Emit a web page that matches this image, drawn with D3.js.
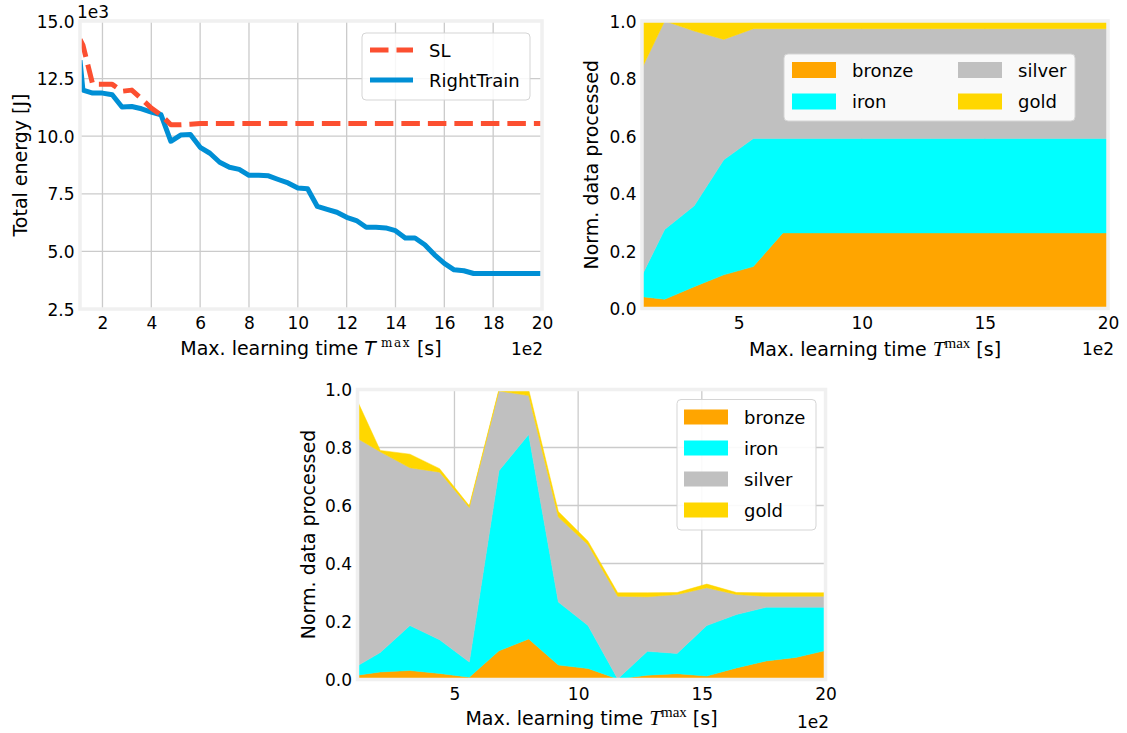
<!DOCTYPE html>
<html><head><meta charset="utf-8">
<script src="https://cdn.jsdelivr.net/npm/d3@7/dist/d3.min.js"></script>
<style>body{margin:0;background:#fff}svg{display:block;font-family:"DejaVu Sans",sans-serif}</style>
</head><body><svg id="c" width="1127" height="733"></svg>
<script>
// ---------- DATA ----------
const energyX = [1.08,1.2,1.6,2.0,2.4,2.8,3.2,3.6,4.0,4.4,4.8,5.2,5.6,6.0,6.4,6.8,7.2,7.6,8.0,8.4,8.8,9.2,9.6,10.0,10.4,10.8,11.2,11.6,12.0,12.4,12.8,13.2,13.6,14.0,14.4,14.8,15.2,15.6,16.0,16.4,16.8,17.2,17.6,18.0,18.4,18.8,19.2,19.6,20.0];
const slEnergy = [14.2,13.95,12.25,12.25,12.25,11.95,12.0,11.62,11.22,10.92,10.5,10.5,10.52,10.55,10.55,10.55,10.55,10.55,10.55,10.55,10.55,10.55,10.55,10.55,10.55,10.55,10.55,10.55,10.55,10.55,10.55,10.55,10.55,10.55,10.55,10.55,10.55,10.55,10.55,10.55,10.55,10.55,10.55,10.55,10.55,10.55,10.55,10.55,10.55];
const rightTrainEnergy = [13.3,12.0,11.87,11.87,11.8,11.27,11.29,11.19,11.05,10.93,9.78,10.05,10.07,9.52,9.26,8.87,8.65,8.56,8.3,8.3,8.28,8.12,7.97,7.75,7.72,6.95,6.82,6.70,6.48,6.34,6.05,6.05,6.02,5.90,5.58,5.58,5.29,4.85,4.48,4.20,4.16,4.04,4.04,4.04,4.04,4.04,4.04,4.04,4.04];
const energyYTicks = [2.5,5.0,7.5,10.0,12.5,15.0];
const energyXTicks = [2,4,6,8,10,12,14,16,18,20];
const lineNames = ["SL","RightTrain"];

const stackX = [1.08,2.0,3.2,4.4,5.6,6.8,8.0,9.2,10.4,11.6,12.8,14.0,15.2,16.4,17.6,18.8,20.0];
const tiers = ["bronze","iron","silver","gold"];
const tierColors = ["#FFA500","#00FFFF","#C0C0C0","#FFD700"];
// top-right panel
const bBronze = [0.041,0.032,0.076,0.117,0.146,0.263,0.263,0.263,0.263,0.263,0.263,0.263,0.263,0.263,0.263,0.263,0.263];
const bIron   = [0.074,0.243,0.281,0.400,0.445,0.328,0.328,0.328,0.328,0.328,0.328,0.328,0.328,0.328,0.328,0.328,0.328];
const bSilver = [0.721,0.725,0.608,0.419,0.382,0.382,0.382,0.382,0.382,0.382,0.382,0.382,0.382,0.382,0.382,0.382,0.382];
const bGold   = [0.164,0.000,0.035,0.064,0.027,0.027,0.027,0.027,0.027,0.027,0.027,0.027,0.027,0.027,0.027,0.027,0.027];
// bottom panel
const cBronze = [0.015,0.026,0.031,0.021,0.008,0.099,0.140,0.050,0.038,0.002,0.015,0.020,0.012,0.040,0.064,0.076,0.100];
const cIron   = [0.032,0.067,0.155,0.116,0.052,0.621,0.705,0.217,0.148,0.000,0.082,0.070,0.174,0.184,0.185,0.173,0.149];
const cSilver = [0.784,0.692,0.544,0.578,0.533,0.275,0.134,0.293,0.279,0.285,0.188,0.203,0.130,0.069,0.038,0.038,0.038];
const cGold   = [0.129,0.005,0.047,0.012,0.006,0.005,0.021,0.019,0.012,0.012,0.014,0.007,0.013,0.007,0.012,0.012,0.012];
const normYTicks = [0.0,0.2,0.4,0.6,0.8,1.0];
const normXTicks = [5,10,15,20];

// ---------- DRAW ----------
const svg = d3.select("#c");
const TICK_FS = 17, LABEL_FS = 19, LEG_FS = 18;
const GRID = "#cbcbcb", FRAME = "#f0f0f0";

function panel(id, box, xDom, yDom, xTicks, yTicks, yFmt) {
  const g = svg.append("g");
  const x = d3.scaleLinear().domain(xDom).range([box.x0, box.x1]);
  const y = d3.scaleLinear().domain(yDom).range([box.y1, box.y0]);
  g.append("clipPath").attr("id", id).append("rect")
    .attr("x", box.x0).attr("y", box.y0).attr("width", box.x1 - box.x0).attr("height", box.y1 - box.y0);
  // grid
  g.append("g").selectAll("line").data(xTicks).join("line")
    .attr("x1", d => x(d)).attr("x2", d => x(d)).attr("y1", box.y0).attr("y2", box.y1)
    .attr("stroke", GRID).attr("stroke-width", 1.3);
  g.append("g").selectAll("line").data(yTicks).join("line")
    .attr("y1", d => y(d)).attr("y2", d => y(d)).attr("x1", box.x0).attr("x2", box.x1)
    .attr("stroke", GRID).attr("stroke-width", 1.3);
  const data = g.append("g").attr("clip-path", `url(#${id})`);
  const over = g.append("g");
  over.append("rect").attr("x", box.x0).attr("y", box.y0).attr("width", box.x1 - box.x0).attr("height", box.y1 - box.y0)
    .attr("fill", "none").attr("stroke", FRAME).attr("stroke-width", 3.5);
  // axes via d3
  const xa = over.append("g").attr("transform", `translate(0,${box.y1})`)
    .call(d3.axisBottom(x).tickValues(xTicks).tickSize(0).tickPadding(0).tickFormat(d3.format("d")));
  xa.select(".domain").remove();
  xa.selectAll("text").attr("font-size", TICK_FS).attr("font-family", "DejaVu Sans").attr("fill", "#000")
    .attr("y", 20).attr("dy", 0);
  const ya = over.append("g").attr("transform", `translate(${box.x0},0)`)
    .call(d3.axisLeft(y).tickValues(yTicks).tickSize(0).tickPadding(5.5).tickFormat(yFmt));
  ya.select(".domain").remove();
  ya.selectAll("text").attr("font-size", TICK_FS).attr("font-family", "DejaVu Sans").attr("fill", "#000")
    .attr("dy", "0.36em");
  return {g, x, y, data, over};
}

function xLabel(p, box, serifT, baseY) {
  const cx = (box.x0 + box.x1) / 2;
  const t = p.over.append("text").attr("x", cx).attr("y", baseY).attr("text-anchor", "middle")
    .attr("font-size", LABEL_FS).attr("fill", "#000");
  t.append("tspan").text("Max. learning time ");
  if (serifT) {
    t.append("tspan").attr("font-family", "Liberation Serif").attr("font-style", "italic").attr("font-size", 21).text("T");
    t.append("tspan").attr("font-family", "Liberation Serif").attr("font-size", 15).attr("dy", -8).text("max");
  } else {
    t.append("tspan").attr("font-style", "italic").text("T");
    t.append("tspan").attr("font-family", "DejaVu Serif").attr("font-size", 12).attr("letter-spacing", 1.5).attr("dy", -8).text(" max");
  }
  t.append("tspan").attr("dy", 8).text(" [s]");
}
function yLabel(p, bx, cy, txt) {
  p.over.append("text").attr("transform", `translate(${bx},${cy}) rotate(-90)`).attr("text-anchor", "middle")
    .attr("font-size", LABEL_FS).attr("fill", "#000").text(txt);
}
function offsetText(p, x, y, anchor, txt) {
  p.over.append("text").attr("x", x).attr("y", y).attr("text-anchor", anchor)
    .attr("font-size", TICK_FS).attr("fill", "#000").text(txt);
}

// ---- Panel A: energy lines ----
const boxA = {x0: 80, x1: 542, y0: 21, y1: 309};
const pA = panel("clipA", boxA, [energyX[0], energyX[energyX.length - 1]], [2.5, 15], energyXTicks, energyYTicks, d3.format(".1f"));
const lineA = d3.line().x((d, i) => pA.x(energyX[i])).y(d => pA.y(d));
pA.data.append("path").datum(rightTrainEnergy).attr("d", lineA).attr("fill", "none")
  .attr("stroke", "#008fd5").attr("stroke-width", 5).attr("stroke-linejoin", "round");
pA.data.append("path").datum(slEnergy).attr("d", lineA).attr("fill", "none")
  .attr("stroke", "#fc4f30").attr("stroke-width", 5).attr("stroke-dasharray", "18.5,8").attr("stroke-linejoin", "round");
pA.over.raise();
xLabel(pA, boxA, false, 355);
yLabel(pA, 27, (boxA.y0 + boxA.y1) / 2, "Total energy [J]");
offsetText(pA, 77, 18, "start", "1e3");
offsetText(pA, 543, 355, "end", "1e2");
// legend A
{
  const lg = pA.over.append("g");
  lg.append("rect").attr("x", 362).attr("y", 33).attr("width", 168).attr("height", 67).attr("rx", 4)
    .attr("fill", "#fff").attr("fill-opacity", 0.85).attr("stroke", "#d5d5d5").attr("stroke-width", 1);
  const cols = ["#fc4f30", "#008fd5"], dash = ["18.5,8", null];
  lineNames.forEach((n, i) => {
    const yy = 50 + i * 30;
    const l = lg.append("line").attr("x1", 370).attr("x2", 413).attr("y1", yy).attr("y2", yy)
      .attr("stroke", cols[i]).attr("stroke-width", 5);
    if (dash[i]) l.attr("stroke-dasharray", dash[i]);
    lg.append("text").attr("x", 429).attr("y", yy + 6.5).attr("font-size", LEG_FS).attr("fill", "#000").text(n);
  });
}

// ---- stacked panels ----
function stackPanel(id, box, vals, legendFn) {
  const p = panel(id, box, [stackX[0], stackX[stackX.length - 1]], [0, 1], normXTicks, normYTicks, d3.format(".1f"));
  const rows = stackX.map((x, i) => {
    const r = {x};
    tiers.forEach((t, k) => r[t] = vals[k][i]);
    return r;
  });
  const series = d3.stack().keys(tiers)(rows);
  const area = d3.area().x(d => p.x(d.data.x)).y0(d => p.y(d[0])).y1(d => p.y(d[1]));
  p.data.selectAll("path").data(series).join("path").attr("d", area)
    .attr("fill", (d, i) => tierColors[i]).attr("stroke", (d, i) => tierColors[i]).attr("stroke-width", 0.5);
  p.over.raise();
  return p;
}

const boxB = {x0: 642, x1: 1108, y0: 21, y1: 308.5};
const pB = stackPanel("clipB", boxB, [bBronze, bIron, bSilver, bGold]);
xLabel(pB, boxB, true, 356);
yLabel(pB, 598, (boxB.y0 + boxB.y1) / 2, "Norm. data processed");
offsetText(pB, 1114, 355, "end", "1e2");
{
  const lg = pB.over.append("g");
  lg.append("rect").attr("x", 784).attr("y", 54).attr("width", 291).attr("height", 67).attr("rx", 4)
    .attr("fill", "#fff").attr("fill-opacity", 0.9).attr("stroke", "#d5d5d5").attr("stroke-width", 1);
  tiers.forEach((t, i) => {
    const col = Math.floor(i / 2), row = i % 2;
    const px = 792 + col * 166, py = 62 + row * 31.5;
    lg.append("rect").attr("x", px).attr("y", py).attr("width", 44).attr("height", 16).attr("fill", tierColors[i]);
    lg.append("text").attr("x", px + 60).attr("y", py + 14.5).attr("font-size", LEG_FS).attr("fill", "#000").text(t);
  });
}

const boxC = {x0: 357.5, x1: 825.5, y0: 389.5, y1: 679.5};
const pC = stackPanel("clipC", boxC, [cBronze, cIron, cSilver, cGold]);
xLabel(pC, boxC, true, 725);
yLabel(pC, 314.5, (boxC.y0 + boxC.y1) / 2, "Norm. data processed");
offsetText(pC, 829, 728, "end", "1e2");
{
  const lg = pC.over.append("g");
  lg.append("rect").attr("x", 677).attr("y", 399.5).attr("width", 139).attr("height", 130.5).attr("rx", 4)
    .attr("fill", "#fff").attr("fill-opacity", 0.9).attr("stroke", "#d5d5d5").attr("stroke-width", 1);
  tiers.forEach((t, i) => {
    const px = 684, py = 409.5 + i * 31;
    lg.append("rect").attr("x", px).attr("y", py).attr("width", 44).attr("height", 15).attr("fill", tierColors[i]);
    lg.append("text").attr("x", 744).attr("y", py + 14).attr("font-size", LEG_FS).attr("fill", "#000").text(t);
  });
}
</script></body></html>
